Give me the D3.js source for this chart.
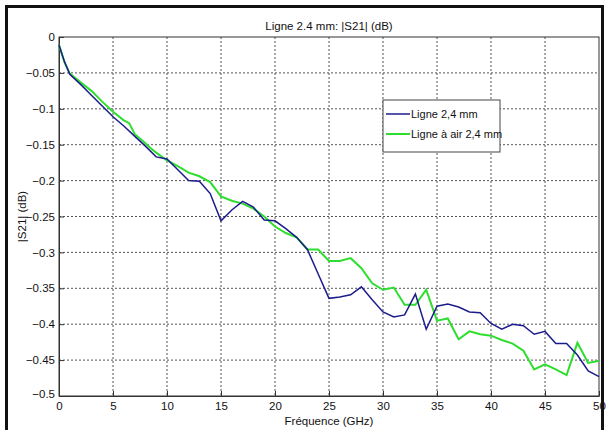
<!DOCTYPE html>
<html>
<head>
<meta charset="utf-8">
<script src="https://cdn.jsdelivr.net/npm/d3@7"></script>
<style>
    body { margin: 0; background: #fff; }
    text { font-family: "Liberation Sans", Arial, sans-serif; fill: #111; }
</style>
</head>
<body>
<script>
//data
var freqBlue = [0, 0.5, 1, 2, 3, 4, 5, 6, 7, 8, 9, 10, 11, 12, 13, 14, 15, 16, 17, 18, 19, 20,
    21, 22, 23, 24, 25, 26, 27, 28, 29, 30, 31, 32, 33, 34, 35, 36, 37, 38, 39, 40,
    41, 42, 43, 44, 45, 46, 47, 48, 49, 50];
var blueVals = [-0.011, -0.034, -0.052, -0.066, -0.081, -0.096, -0.111, -0.124, -0.138, -0.152, -0.167, -0.170,
    -0.185, -0.200, -0.201, -0.218, -0.256, -0.241, -0.229, -0.237, -0.255, -0.256,
    -0.267, -0.279, -0.296, -0.330, -0.364, -0.362, -0.359, -0.348, -0.366, -0.383, -0.390, -0.387,
    -0.358, -0.407, -0.375, -0.372, -0.376, -0.383, -0.384, -0.399, -0.407, -0.400, -0.402,
    -0.414, -0.410, -0.427, -0.427, -0.443, -0.465, -0.473];

var freqGreen = [0, 0.5, 1, 2, 3, 4, 5, 6, 6.5, 7, 8, 8.5, 9, 10, 11, 12, 13, 14, 15, 16, 17, 18, 19, 20,
    21, 22, 23, 24, 25, 26, 27, 28, 29, 30, 31, 32, 33, 34, 35, 36, 37, 38, 39, 40,
    41, 42, 43, 44, 45, 46, 47, 48, 49, 50];
var greenVals = [-0.011, -0.035, -0.051, -0.063, -0.075, -0.090, -0.104, -0.116, -0.120, -0.135, -0.148, -0.155,
    -0.161, -0.172, -0.180, -0.189, -0.194, -0.202, -0.222, -0.228, -0.232, -0.239, -0.250, -0.264,
    -0.273, -0.279, -0.296, -0.296, -0.312, -0.312, -0.308, -0.322, -0.343, -0.352, -0.349, -0.373,
    -0.373, -0.352, -0.395, -0.392, -0.421, -0.410, -0.414, -0.416, -0.422, -0.427, -0.437,
    -0.463, -0.456, -0.463, -0.471, -0.426, -0.454, -0.451];

var xTicks = [0, 5, 10, 15, 20, 25, 30, 35, 40, 45, 50];
var yTicks = [0, -0.05, -0.1, -0.15, -0.2, -0.25, -0.3, -0.35, -0.4, -0.45, -0.5];
var seriesNames = ["Ligne 2,4 mm", "Ligne à air 2,4 mm"];
var seriesColors = ["#1c1c8c", "#2ede2e"];

//plot area inside the 607x430 page
var margin = { top: 37, right: 8, bottom: 34, left: 59 },
    width = 607 - margin.left - margin.right,
    height = 430 - margin.top - margin.bottom;

var root = d3.select("body").append("svg")
    .attr("width", 607)
    .attr("height", 430);

//outer frame of the figure
root.append("rect")
    .attr("x", 6.5).attr("y", 6.5)
    .attr("width", 596).attr("height", 440)
    .attr("fill", "none")
    .attr("stroke", "#111")
    .attr("stroke-width", 3);

var svg = root.append("g")
    .attr("transform", "translate(" + margin.left + "," + margin.top + ")");

var xScale = d3.scaleLinear().domain([0, 50]).range([0, width]);
var yScale = d3.scaleLinear().domain([-0.5, 0]).range([height, 0]);

//dotted grid
svg.append("g").selectAll("line")
    .data(xTicks.slice(1, -1))
    .enter().append("line")
    .attr("x1", d => xScale(d)).attr("x2", d => xScale(d))
    .attr("y1", 0).attr("y2", height)
    .attr("stroke", "#555").attr("stroke-dasharray", "2,2");

svg.append("g").selectAll("line")
    .data(yTicks.slice(1, -1))
    .enter().append("line")
    .attr("x1", 0).attr("x2", width)
    .attr("y1", d => yScale(d)).attr("y2", d => yScale(d))
    .attr("stroke", "#555").attr("stroke-dasharray", "2,2");

//axes, ticks pointing inward like matlab
var xAxis = svg.append("g")
    .attr("transform", "translate(0," + height + ")")
    .call(d3.axisBottom(xScale).tickValues(xTicks).tickSizeInner(-5).tickSizeOuter(0).tickPadding(6)
        .tickFormat(d3.format("d")));
var yAxis = svg.append("g")
    .call(d3.axisLeft(yScale).tickValues(yTicks).tickSizeInner(-5).tickSizeOuter(0).tickPadding(4)
        .tickFormat(d => d === 0 ? "0" : d3.format("")(d)));
[xAxis, yAxis].forEach(function(ax) {
    ax.selectAll("text").style("font-size", "11.5px").attr("font-family", null);
    ax.selectAll("line, path").attr("stroke", "#333");
});
//the -0.5 label sits a bit low in the reference
yAxis.selectAll(".tick").filter(d => d === -0.5).select("text").attr("dy", "0.1em");

svg.append("rect")
    .attr("width", width).attr("height", height)
    .attr("fill", "none").attr("stroke", "#333");

//the two curves
var line = d3.line()
    .x(d => xScale(d[0]))
    .y(d => yScale(d[1]));

var greenData = freqGreen.map((f, i) => [f, greenVals[i]]);
var blueData = freqBlue.map((f, i) => [f, blueVals[i]]);

svg.append("path")
    .datum(greenData)
    .attr("fill", "none").attr("stroke", seriesColors[1]).attr("stroke-width", 2)
    .attr("d", line);
svg.append("path")
    .datum(blueData)
    .attr("fill", "none").attr("stroke", seriesColors[0]).attr("stroke-width", 1.5)
    .attr("d", line);

//labels
svg.append("text")
    .attr("x", width / 2).attr("y", -7)
    .attr("text-anchor", "middle").style("font-size", "11.5px")
    .text("Ligne 2.4 mm: |S21| (dB)");
svg.append("text")
    .attr("x", width / 2).attr("y", height + 29)
    .attr("text-anchor", "middle").style("font-size", "11.5px")
    .text("Fréquence (GHz)");
svg.append("text")
    .attr("transform", "translate(-33," + (height / 2) + ") rotate(-90)")
    .attr("text-anchor", "middle").style("font-size", "11.5px")
    .text("|S21| (dB)");

//legend
var legend = svg.append("g").attr("transform", "translate(" + (383 - margin.left) + "," + (100 - margin.top) + ")");
legend.append("rect")
    .attr("width", 117).attr("height", 52)
    .attr("fill", "#fff").attr("stroke", "#444");
seriesNames.forEach(function(name, i) {
    var yy = 14 + i * 20;
    legend.append("line")
        .attr("x1", 3).attr("x2", 27).attr("y1", yy).attr("y2", yy)
        .attr("stroke", seriesColors[i]).attr("stroke-width", i ? 2 : 1.5);
    legend.append("text")
        .attr("x", 28).attr("y", yy + 4)
        .style("font-size", "11px")
        .text(name);
});
</script>
</body>
</html>
